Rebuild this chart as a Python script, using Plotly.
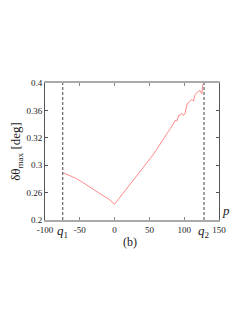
import plotly.graph_objects as go

# Data
p_vals = [-74, -65, -56, -46, -37, -27, -18, -8, 0, 5, 10, 15, 20, 25, 30, 35, 40,
          45, 50, 55, 60, 65, 70, 75, 80, 84, 87, 89.5, 91, 92.5, 94.3, 96.7, 99,
          101.4, 103.9, 106, 108.6, 111, 113.3, 115.7, 118, 120.4, 122.9, 125.3,
          126.7, 128]
dtheta = [0.269, 0.2655, 0.261, 0.255, 0.2487, 0.2425, 0.2365, 0.2302, 0.2232,
          0.2297, 0.2362, 0.2428, 0.2492, 0.2553, 0.2617, 0.268, 0.2742, 0.2812,
          0.2878, 0.2948, 0.3025, 0.3098, 0.3172, 0.3255, 0.3335, 0.3395, 0.3455,
          0.3445, 0.3505, 0.3535, 0.3530, 0.3557, 0.3525, 0.356, 0.369, 0.371,
          0.374, 0.376, 0.3735, 0.383, 0.3855, 0.388, 0.389, 0.384, 0.397, 0.399]

q1 = -74.5
q2 = 128.5

x_tickvals = [-100, -50, 0, 50, 100, 150]
x_ticktext = ["-100", "-50", "0", "50", "100", "150"]
y_tickvals = [0.2, 0.24, 0.28, 0.32, 0.36, 0.4]
y_ticktext = ["0.2", "0.26", "0.3", "0.32", "0.36", "0.4"]

SERIF = "Liberation Serif"

fig = go.Figure()
fig.add_trace(go.Scatter(x=p_vals, y=dtheta, mode="lines",
                         line=dict(color="#ff8a8a", width=1), showlegend=False))

for q in (q1, q2):
    fig.add_vline(x=q, line=dict(color="#444444", width=1, dash="3px,2px"))

fig.update_layout(
    width=232, height=302,
    margin=dict(l=37, r=21, t=75, b=90, autoexpand=False),
    paper_bgcolor="white", plot_bgcolor="white",
    font=dict(family=SERIF, size=9, color="#222222"),
    xaxis=dict(range=[-100, 150], tickvals=x_tickvals, ticktext=x_ticktext,
               showgrid=False, zeroline=False, showline=True, linecolor="#aaaaaa",
               linewidth=2, mirror="ticks", ticks="inside", ticklen=3,
               tickcolor="#888888", tickfont=dict(family=SERIF, size=9),
               automargin=False),
    yaxis=dict(range=[0.2, 0.4], tickvals=y_tickvals, ticktext=y_ticktext,
               showgrid=False, zeroline=False, showline=True, linecolor="#555555",
               linewidth=1, mirror="ticks", ticks="inside", ticklen=3,
               tickcolor="#555555", tickfont=dict(family=SERIF, size=9),
               automargin=False,
               title=dict(text="δθ<sub>max</sub> [deg]", standoff=4,
                          font=dict(family=SERIF, size=13))),
)

fig.add_annotation(x=q1, y=0, xref="x", yref="paper", yanchor="top", yshift=-1,
                   text="<i>q</i><sub>1</sub>", showarrow=False,
                   font=dict(family=SERIF, size=13))
fig.add_annotation(x=q2, y=0, xref="x", yref="paper", yanchor="top", yshift=-1,
                   text="<i>q</i><sub>2</sub>", showarrow=False,
                   font=dict(family=SERIF, size=13))
fig.add_annotation(x=1, y=0, xref="paper", yref="paper", xanchor="left",
                   yanchor="bottom", xshift=1, text="<i>p</i>", showarrow=False,
                   font=dict(family=SERIF, size=13))
fig.add_annotation(x=0.49, y=0, xref="paper", yref="paper", yanchor="top",
                   yshift=-13, text="(b)", showarrow=False,
                   font=dict(family=SERIF, size=12))

fig.write_html("out.html")
